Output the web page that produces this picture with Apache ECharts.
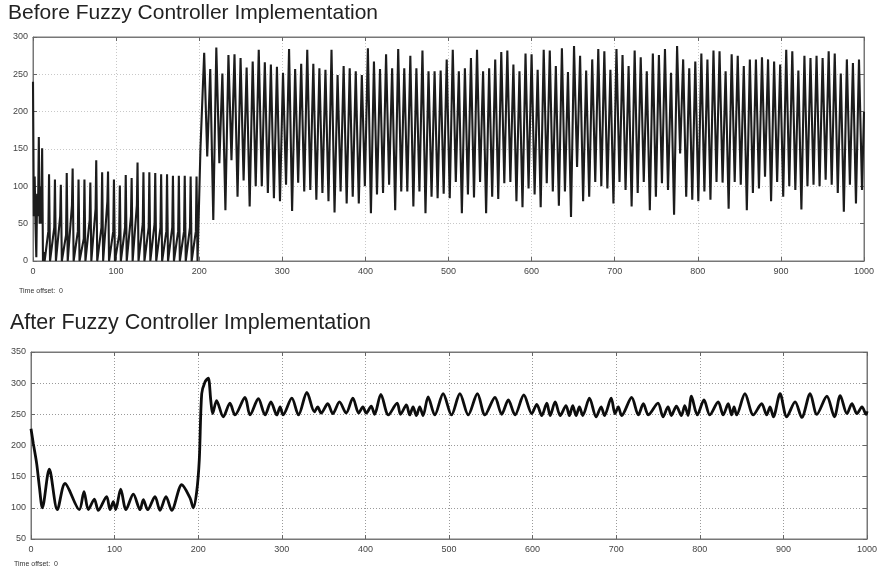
<!DOCTYPE html>
<html>
<head>
<meta charset="utf-8">
<script src="https://cdn.jsdelivr.net/npm/echarts@6/dist/echarts.min.js"></script>
<style>html,body{margin:0;padding:0;background:#fff;}#c{width:881px;height:571px;}</style>
</head>
<body>
<div id="c"></div>
<script>
// ---------- DATA ----------
const titleTop = 'Before Fuzzy Controller Implementation';
const titleBottom = 'After Fuzzy Controller Implementation';
const offsetLabel = 'Time offset:  0';

// Top plot: early transient (time, value)
const earlyT = [0, 1, 2, 3, 4, 5, 6, 7, 8, 9, 10, 11, 12, 13, 14];
const earlyV = [240, 60, 113, 50, 5, 90, 60, 166, 50, 100, 50, 151, 0, 12, 0];

// Top plot, t < 200 : cycle peaks, rising mid level (one per cycle)
const preStart = 19.3, prePeriod = 7.1;
const prePeaks = [116,109,102,118,124,109,109,105,135,119,120,109,101,115,111,132,119,119,118,116,116,114,114,114,113,113];
const preMids  = [40,45,60,35,75,40,30,55,70,45,80,40,35,45,60,75,50,45,50,45,40,45,40,40,45,40];

// Top plot, t > 200 : cycle peaks and troughs
const postStart = 206, postPeriod = 7.296;
const postPeaks = [279,257,286,251,276,277,272,259,267,283,266,263,260,252,284,257,264,283,264,258,256,283,249,261,258,254,249,285,267,257,277,258,284,258,275,258,282,254,254,255,
  270,283,254,258,272,283,254,258,270,280,282,263,254,278,277,256,283,282,261,285,253,288,275,255,270,284,281,256,284,276,
  261,282,273,254,278,276,284,252,288,270,258,267,278,270,282,281,254,277,275,261,270,270,273,270,267,263,283,281,255,275,
  272,275,272,281,278,251,270,265,270];
const postTroughs = [140,55,131,68,135,86,108,73,100,100,91,84,80,102,67,105,93,95,82,91,80,65,93,77,86,77,100,64,89,91,102,68,93,93,73,93,64,86,84,90,
  84,106,64,89,85,106,64,86,83,104,106,80,72,97,89,72,104,93,74,93,59,126,80,86,106,100,97,77,106,95,
  73,91,106,68,86,104,95,62,144,86,82,80,93,82,106,105,70,106,102,68,91,97,113,80,106,86,100,95,69,100,
  102,100,109,102,91,66,102,77,95];
const transitionT = [198.5, 200, 201.5];
const transitionV = [0, 0, 150];
const endT = [1000], endV = [200];

// Bottom plot (time, value)
const botT = [0,2.8,6.8,10,13.6,21.9,31.5,40.7,57.8,63.4,68.6,75.8,80.5,90.5,94.5,98.5,101.3,107.3,113.6,122.4,130.4,134.4,139.6,148.3,154.3,161.5,168.3,180.3,190.2,194.1,198.2,201.3,204.2,208.1,212,215,217.3,
  222,230,238,244,256,262,272,280,287,294,298,301.5,312,320,330,339,343,347,355,361,369,377,385,392,397,401,407,411,
  418.5,427.5,438,442,449,453,457,461,465,469,475,483,493,503,513,523,534,543,555,563,571,579,589.5,599,605,611,617,621,627,633,640,644,648,652,656,660,668,676,682,686,694,698.6,702.5,706.5,
  718.5,726.5,732.5,738.5,750,756,762,766,772,778,782,786,790,797,805,812,822,828,834,838,841,844,854,864,874,880,884,888,896,904,914,922,932,940,952,961,968,976,982,988,994,999,1000];
const botV = [227,203,171,134,100,162,97,139,97,126,97,114,96,118,97,110,97,130,97,122,97,113,97,118,96,118,96,137,116,100,126,177,283,302,308,273,251,
  272,246,268,249,277,249,275,249,270,249,262,249,276,249,285,254,262,252,267,251,270,252,276,252,262,252,263,250,
  282,249,268,250,265,249,262,248,262,248,278,249,283,249,283,249,283,249,277,250,273,249,281,251,266,248,268,248,270,248,264,248,264,248,262,248,276,246,262,248,276,251,262,248,
  277,249,267,249,268,246,262,248,263,248,264,248,279,249,273,249,270,249,267,249,262,249,283,249,267,249,262,246,283,246,270,245,283,250,279,246,280,251,267,251,262,250,255];

// ---------- build point lists from the arrays ----------
const topPts = [];
earlyT.forEach((t, i) => topPts.push([t, earlyV[i]]));
prePeaks.forEach((p, i) => {
  const tp = preStart + i * prePeriod;
  topPts.push([tp - 0.8, preMids[i]]);
  topPts.push([tp, p]);
  topPts.push([tp + 1.2, 0]);
});
transitionT.forEach((t, i) => topPts.push([t, transitionV[i]]));
postPeaks.forEach((p, i) => {
  const tp = postStart + i * postPeriod;
  topPts.push([tp, p]);
  if (i < postTroughs.length) topPts.push([tp + postPeriod / 2, postTroughs[i]]);
});
endT.forEach((t, i) => topPts.push([t, endV[i]]));

const botPts = botT.map((t, i) => [t, botV[i]]);

// ---------- chart ----------
const FONT = 'Liberation Sans, Arial, sans-serif';
const lbl = { fontSize: 9, color: '#444', fontFamily: FONT };
const chart = echarts.init(document.getElementById('c'), null, { renderer: 'canvas' });

function xAx(grid, pos, showLabel) {
  return {
    type: 'value', gridIndex: grid, position: pos, min: 0, max: 1000, interval: 100,
    axisLine: { show: true, onZero: false, lineStyle: { color: '#777', width: 1 } },
    axisTick: { show: true, inside: true, length: 4, lineStyle: { color: '#666' } },
    axisLabel: Object.assign({ show: showLabel, margin: 6, formatter: v => String(v) }, lbl),
    splitLine: { show: showLabel, lineStyle: { color: grid === 0 ? '#c8c8c8' : '#9a9a9a', type: [1, 2] } }
  };
}
function yAx(grid, pos, showLabel, min, max) {
  return {
    type: 'value', gridIndex: grid, position: pos, min: min, max: max, interval: 50,
    axisLine: { show: true, onZero: false, lineStyle: { color: '#777', width: 1 } },
    axisTick: { show: true, inside: true, length: 4, lineStyle: { color: '#666' } },
    axisLabel: Object.assign({ show: showLabel, margin: 5 }, lbl),
    splitLine: { show: showLabel, lineStyle: { color: grid === 0 ? '#c8c8c8' : '#9a9a9a', type: [1, 2] } }
  };
}

chart.setOption({
  animation: false,
  backgroundColor: '#fff',
  title: [
    { text: titleTop, left: 8, top: 3, padding: 0, textStyle: { fontSize: 21, fontWeight: 'normal', color: '#222', fontFamily: FONT } },
    { text: titleBottom, left: 10, top: 312, padding: 0, textStyle: { fontSize: 21.5, fontWeight: 'normal', color: '#222', fontFamily: FONT } },
    { text: offsetLabel, left: 19, top: 288, padding: 0, textStyle: { fontSize: 7, fontWeight: 'normal', color: '#333', fontFamily: FONT } },
    { text: offsetLabel, left: 14, top: 561, padding: 0, textStyle: { fontSize: 7, fontWeight: 'normal', color: '#333', fontFamily: FONT } }
  ],
  grid: [
    { left: 33, right: 17, top: 37, height: 224, show: true, borderColor: '#777', borderWidth: 1 },
    { left: 31, right: 14, top: 352, height: 187, show: true, borderColor: '#777', borderWidth: 1 }
  ],
  xAxis: [xAx(0, 'bottom', true), xAx(1, 'bottom', true), xAx(0, 'top', false), xAx(1, 'top', false)],
  yAxis: [yAx(0, 'left', true, 0, 300), yAx(1, 'left', true, 50, 350), yAx(0, 'right', false, 0, 300), yAx(1, 'right', false, 50, 350)],
  series: [
    { type: 'line', xAxisIndex: 0, yAxisIndex: 0, data: topPts, showSymbol: false, lineStyle: { color: '#1c1c1c', width: 2.1 } },
    { type: 'line', xAxisIndex: 1, yAxisIndex: 1, data: botPts, showSymbol: false, smooth: 0.3, lineStyle: { color: '#0d0d0d', width: 2.8 } }
  ]
});
</script>
</body>
</html>
